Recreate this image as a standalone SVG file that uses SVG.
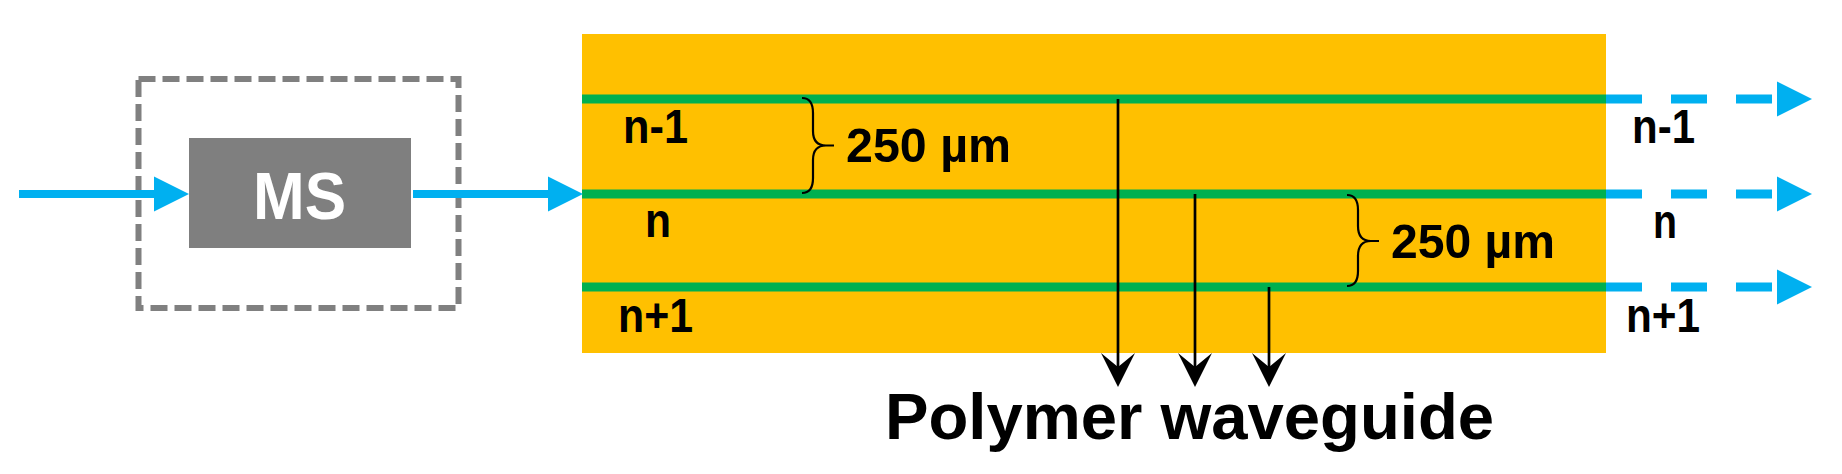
<svg xmlns="http://www.w3.org/2000/svg" width="1842" height="474" viewBox="0 0 1842 474">
<style>
.lbl{font-family:"Liberation Sans",Arial,sans-serif;font-weight:bold;fill:#000}
.wg{stroke:#00b050;stroke-width:9;fill:none}
.blue{stroke:#00b0f0;stroke-width:8;fill:none}
.bdash{stroke:#00b0f0;stroke-width:9;fill:none;stroke-dasharray:36 29}
.blk{stroke:#000;stroke-width:2.7;fill:none}
.brace{stroke:#000;stroke-width:2.2;fill:none}
</style>
<defs>
<marker id="blueHead" markerUnits="userSpaceOnUse" orient="auto" refX="0" refY="0" markerWidth="40" markerHeight="40" overflow="visible">
<path d="M0,-17.5 L35,0 L0,17.5 Z" fill="#00b0f0"/>
</marker>
<marker id="blackHead" markerUnits="userSpaceOnUse" orient="auto" refX="0" refY="0" markerWidth="40" markerHeight="40" overflow="visible">
<path d="M17,0 L-17,-17 L-3,0 L-17,17 Z" fill="#000"/>
</marker>
</defs>
<rect width="1842" height="474" fill="#fff"/>

<g id="ms-frame">
<rect x="138.5" y="79" width="320" height="229" fill="none" stroke="#808080" stroke-width="6" stroke-dasharray="17 7"/>
</g>
<g id="ms-box">
<rect x="189" y="138" width="222" height="110" fill="#7f7f7f"/>
<text class="lbl" x="253" y="219" font-size="67" textLength="93" lengthAdjust="spacingAndGlyphs" style="fill:#fff">MS</text>
</g>

<g id="chip">
<rect x="582" y="34" width="1024" height="319" fill="#ffc000"/>
</g>

<g id="waveguides">
<line class="wg" x1="582" y1="99" x2="1606" y2="99"/>
<line class="wg" x1="582" y1="194" x2="1606" y2="194"/>
<line class="wg" x1="582" y1="287" x2="1606" y2="287"/>
</g>

<g id="connectors">
<line class="blue" x1="19" y1="194" x2="154" y2="194" marker-end="url(#blueHead)"/>
<line class="blue" x1="413" y1="194" x2="548" y2="194" marker-end="url(#blueHead)"/>
<line class="bdash" x1="1606" y1="99" x2="1777" y2="99" marker-end="url(#blueHead)"/>
<line class="bdash" x1="1606" y1="194" x2="1777" y2="194" marker-end="url(#blueHead)"/>
<line class="bdash" x1="1606" y1="287" x2="1777" y2="287" marker-end="url(#blueHead)"/>
<line class="blk" x1="1118" y1="99" x2="1118" y2="370" marker-end="url(#blackHead)"/>
<line class="blk" x1="1195" y1="194" x2="1195" y2="370" marker-end="url(#blackHead)"/>
<line class="blk" x1="1269" y1="287" x2="1269" y2="370" marker-end="url(#blackHead)"/>
</g>

<g id="brace-1">
<path class="brace" d="M802,98 Q813,98 813,113 L813,131 Q813,145.5 826,145.5 L834,145.5 M826,145.5 Q813,145.5 813,160 L813,178 Q813,193 802,193"/>
<text class="lbl" x="846" y="162" font-size="49" textLength="165" lengthAdjust="spacingAndGlyphs">250 µm</text>
</g>
<g id="brace-2">
<path class="brace" d="M1347,195 Q1358,195 1358,210 L1358,226 Q1358,241 1371,241 L1379,241 M1371,241 Q1358,241 1358,256 L1358,271 Q1358,286 1347,286"/>
<text class="lbl" x="1391" y="258" font-size="49" textLength="164" lengthAdjust="spacingAndGlyphs">250 µm</text>
</g>

<g id="labels-left">
<text class="lbl" x="623" y="143" font-size="48" textLength="65" lengthAdjust="spacingAndGlyphs">n-1</text>
<text class="lbl" x="645" y="237" font-size="48" textLength="26" lengthAdjust="spacingAndGlyphs">n</text>
<text class="lbl" x="618" y="332" font-size="48" textLength="75" lengthAdjust="spacingAndGlyphs">n+1</text>
</g>
<g id="labels-right">
<text class="lbl" x="1632" y="143" font-size="48" textLength="63" lengthAdjust="spacingAndGlyphs">n-1</text>
<text class="lbl" x="1653" y="238" font-size="48" textLength="24" lengthAdjust="spacingAndGlyphs">n</text>
<text class="lbl" x="1626" y="332" font-size="48" textLength="74" lengthAdjust="spacingAndGlyphs">n+1</text>
</g>
<g id="caption">
<text class="lbl" x="885" y="439" font-size="64" textLength="609" lengthAdjust="spacingAndGlyphs">Polymer waveguide</text>
</g>
</svg>
